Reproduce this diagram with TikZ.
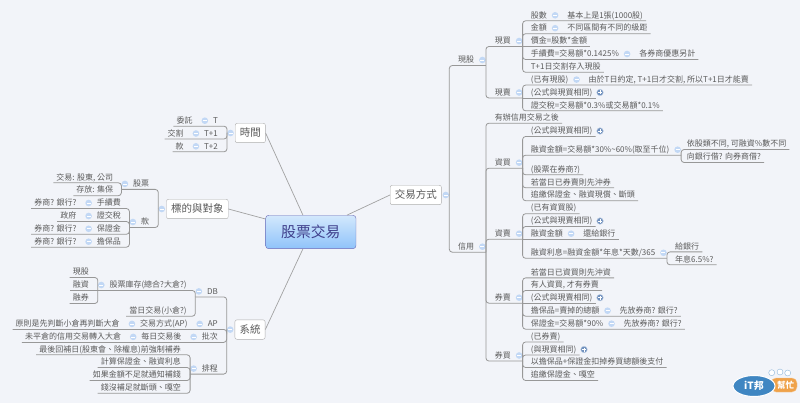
\documentclass[tikz,border=0pt]{standalone}
\usepackage{fontspec}
\setmainfont{Noto Sans CJK TC}
\usepackage{tikz}
\usetikzlibrary{positioning,calc,shapes.geometric}
\definecolor{paper}{HTML}{F2F4F9}
\definecolor{ink}{HTML}{5A5A5A}
\definecolor{wire}{HTML}{989898}
\definecolor{dotblue}{HTML}{C2D8F5}
\definecolor{plusblue}{HTML}{6F90BE}
\definecolor{logoblue}{HTML}{3F86C2}
\definecolor{logoorange}{HTML}{EFA24A}
\definecolor{roottop}{HTML}{D3E8FC}
\definecolor{rootlow}{HTML}{8FC3FA}

\begin{document}
\begin{tikzpicture}[
  x=1pt,y=-1pt,
  node distance=1.5pt,
  lab/.style={inner xsep=3pt,inner ysep=0pt,minimum height=10.6pt,text height=6.8pt,
    text depth=1.2pt,text=ink,font=\fontsize{8}{8}\selectfont},
  topic/.style={draw=wire!80,fill=white,rounded corners=2pt,inner xsep=4.6pt,inner ysep=0pt,
    minimum height=19.4pt,text height=8.8pt,text depth=1.6pt,text=ink,
    font=\fontsize{10.5}{10.5}\selectfont},
  minus/.style={circle,fill=dotblue,minimum size=6.6pt,inner sep=0pt,
    path picture={\draw[white,line width=.7pt] ($(path picture bounding box.center)+(-2,0)$)--+(4,0);}},
  plus/.style={circle,fill=plusblue,draw=plusblue!40,minimum size=6.6pt,inner sep=0pt,
    path picture={\draw[white,line width=.7pt] ($(path picture bounding box.center)+(-2,0)$)--+(4,0)
      ($(path picture bounding box.center)+(0,-2)$)--+(0,4);}},
  branch/.style={draw=wire,line width=.8pt,rounded corners=3pt},
  spoke/.style={draw=wire!90,line width=.7pt}]
\fill[paper] (0,0) rectangle (800,403);
\useasboundingbox (0,0) rectangle (800,403);

% centre
\node[draw=wire!70!blue,rounded corners=3pt,top color=roottop,bottom color=rootlow,
  minimum width=90.3pt,minimum height=33.4pt,text=ink!70!blue,
  font=\fontsize{14.8}{14.8}\selectfont] (root) at (310.8,232) {股票交易};
\node[topic,anchor=west] (time) at (235,133) {時間};
\node[topic,anchor=west] (target) at (166.3,209) {標的與對象};
\node[topic,anchor=west] (sys) at (234.7,329.6) {系統};
\node[topic,anchor=west] (trade) at (390,195) {交易方式};
\draw[spoke] (root.115)--(time.east);
\draw[spoke] (root.164)--(target.east);
\draw[spoke] (root.245)--(sys.east);
\draw[spoke] (root.25)--(trade.west);
\node[minus,left=1pt of time] (timeM) {};
\node[minus,left=1pt of target] (targetM) {};
\node[minus,left=1pt of sys] (sysM) {};
\node[minus,right=.7pt of trade] (tradeM) {};

% time
\node[lab,anchor=east] (t0) at (221,120.7) {T};
\node[minus,left=of t0] (t0M) {};
\node[lab,left=5.5pt of t0M] (t0L) {委託};
\node[lab,anchor=east] (t1) at (221,133.5) {T+1};
\node[minus,left=of t1] (t1M) {};
\node[lab,left=5.5pt of t1M] (t1L) {交割};
\node[lab,anchor=east] (t2) at (221,146.3) {T+2};
\node[minus,left=of t2] (t2M) {};
\node[lab,left=5.5pt of t2M] (t2L) {款};
\draw[branch] (timeM.west) |- (t0L.south west);
\draw[branch] (timeM.west) |- (t1L.south west);
\draw[branch] (timeM.west) |- (t2L.south west);

% target
\node[lab,anchor=east] (stock) at (152.3,183.9) {股票};
\node[minus,left=of stock] (stockM) {};
\node[lab,anchor=east] (deal) at (116.3,177.3) {交易: 股東, 公司};
\node[lab,anchor=east] (keep) at (116.3,190.2) {存放: 集保};
\coordinate (stockJ) at (stockM.west |- stock.south);
\draw[branch] (targetM.west) |- (stockJ);
\draw[branch] (stockJ) |- (deal.south west);
\draw[branch] (stockJ) |- (keep.south west);
\node[lab,anchor=east] (money) at (152.3,222) {款};
\node[minus,left=of money] (moneyM) {};
\coordinate (moneyJ) at (moneyM.west |- money.south);
\draw[branch] (targetM.west) |- (moneyJ);
\node[lab,anchor=east] (fee) at (124,203) {手續費};
\node[minus,left=of fee] (feeM) {};
\node[lab,left=5.5pt of feeM] (feeL) {券商? 銀行?};
\node[lab,anchor=east] (tax) at (124,216) {證交稅};
\node[minus,left=of tax] (taxM) {};
\node[lab,left=5.5pt of taxM] (taxL) {政府};
\node[lab,anchor=east] (marg) at (124,228.8) {保證金};
\node[minus,left=of marg] (margM) {};
\node[lab,left=5.5pt of margM] (margL) {券商? 銀行?};
\node[lab,anchor=east] (coll) at (124,241.7) {擔保品};
\node[minus,left=of coll] (collM) {};
\node[lab,left=5.5pt of collM] (collL) {券商? 銀行?};
\draw[branch] (moneyJ) |- (feeL.south west);
\draw[branch] (moneyJ) |- (taxL.south west);
\draw[branch] (moneyJ) |- (margL.south west);
\draw[branch] (moneyJ) |- (collL.south west);

% system
\node[lab,anchor=east] (db) at (221,291.4) {DB};
\node[minus,left=of db] (dbM) {};
\coordinate (dbJ) at (dbM.west |- db.south);
\draw[branch] (sysM.west) |- (dbJ);
\node[lab,anchor=east] (inv) at (189.7,285) {股票庫存(總合?大倉?)};
\node[minus,left=of inv] (invM) {};
\coordinate (invJ) at (invM.west |- inv.south);
\draw[branch] (dbJ) |- (invJ);
\node[lab,anchor=east] (spot) at (92,272) {現股};
\node[lab,anchor=east] (lend) at (92,285) {融資};
\node[lab,anchor=east] (short) at (92,298) {融券};
\draw[branch] (invJ) |- (spot.south west);
\draw[branch] (invJ) -- (lend.south west);
\draw[branch] (invJ) |- (short.south west);
\node[lab,anchor=east] (today) at (189.7,310.7) {當日交易(小倉?)};
\draw[branch] (dbJ) |- (today.south west);
\node[lab,anchor=east] (ap) at (221,323.9) {AP};
\node[minus,left=of ap] (apM) {};
\node[lab,left=5.5pt of apM] (apWay) {交易方式(AP)};
\node[minus,left=of apWay] (apWayM) {};
\node[lab,left=5.5pt of apWayM] (apRule) {原則是先判斷小倉再判斷大倉};
\draw[branch] (sysM.west) |- (apRule.south west);
\node[lab,anchor=east] (batch) at (221,336.9) {批次};
\node[minus,left=of batch] (batchM) {};
\node[lab,left=5.5pt of batchM] (batchWhen) {每日交易後};
\node[minus,left=of batchWhen] (batchWhenM) {};
\node[lab,left=5.5pt of batchWhenM] (batchDo) {未平倉的信用交易轉入大倉};
\draw[branch] (sysM.west) |- (batchDo.south west);
\node[lab,anchor=east] (sched) at (221,368.6) {排程};
\node[minus,left=of sched] (schedM) {};
\coordinate (schedJ) at (schedM.west |- sched.south);
\draw[branch] (sysM.west) |- (schedJ);
\node[lab,anchor=east] (last) at (184,349.3) {最後回補日(股東會、除權息)前強制補券};
\node[lab,anchor=east] (calc) at (184,362) {計算保證金、融資利息};
\node[lab,anchor=east] (notify) at (184,375) {如果金額不足就通知補錢};
\node[lab,anchor=east] (cut) at (184,387.8) {錢沒補足就斷頭、嘎空};
\draw[branch] (schedJ) |- (last.south west);
\draw[branch] (schedJ) |- (calc.south west);
\draw[branch] (schedJ) |- (notify.south west);
\draw[branch] (schedJ) |- (cut.south west);

% trade, cash
\node[lab,anchor=west] (cash) at (455,60) {現股};
\node[minus,right=of cash] (cashM) {};
\coordinate (cashJ) at (cashM.east |- cash.south);
\draw[branch] (tradeM.east) |- (cashJ);
\node[lab,anchor=west] (cbuy) at (491.7,41) {現買};
\node[minus,right=of cbuy] (cbuyM) {};
\coordinate (cbuyJ) at (cbuyM.east |- cbuy.south);
\draw[branch] (cashJ) |- (cbuyJ);
\node[lab,anchor=west] (shares) at (527.7,15.3) {股數};
\node[minus,right=of shares] (sharesM) {};
\node[lab,right=5.5pt of sharesM] (sharesN) {基本上是1張(1000股)};
\node[lab,anchor=west] (amount) at (527.7,28.2) {金額};
\node[minus,right=of amount] (amountM) {};
\node[lab,right=5.5pt of amountM] (amountN) {不同區間有不同的級距};
\node[lab,anchor=west] (price) at (527.7,41) {價金=股數*金額};
\node[lab,anchor=west] (cfee) at (527.7,54) {手續費=交易額*0.1425\%};
\node[minus,right=of cfee] (cfeeM) {};
\node[lab,right=5.5pt of cfeeM] (cfeeN) {各券商優惠另計};
\node[lab,anchor=west] (settle) at (527.7,66.8) {T+1日交割存入現股};
\draw[branch] (cbuyJ) |- (sharesN.south east);
\draw[branch] (cbuyJ) |- (amountN.south east);
\draw[branch] (cbuyJ) -- (price.south east);
\draw[branch] (cbuyJ) |- (cfeeN.south east);
\draw[branch] (cbuyJ) |- (settle.south east);
\node[lab,anchor=west] (csell) at (491.7,92.5) {現賣};
\node[minus,right=of csell] (csellM) {};
\coordinate (csellJ) at (csellM.east |- csell.south);
\draw[branch] (cashJ) |- (csellJ);
\node[lab,anchor=west] (have) at (527.7,79.6) {(已有現股)};
\node[minus,right=of have] (haveM) {};
\node[lab,right=5.5pt of haveM] (haveN) {由於T日約定, T+1日才交割, 所以T+1日才能賣};
\node[lab,anchor=west] (same1) at (527.7,92.5) {(公式與現買相同)};
\node[plus,right=1pt of same1] (same1P) {};
\node[lab,anchor=west] (ctax) at (527.7,105.3) {證交稅=交易額*0.3\%或交易額*0.1\%};
\draw[branch] (csellJ) |- (haveN.south east);
\draw[branch] (csellJ) -- (same1.south east);
\draw[branch] (csellJ) |- (ctax.south east);

% trade, credit
\node[lab,anchor=west] (credit) at (455,246.7) {信用};
\node[minus,right=of credit] (creditM) {};
\coordinate (creditJ) at (creditM.east |- credit.south);
\draw[branch] (tradeM.east) |- (creditJ);
\node[lab,anchor=west] (open) at (491.7,117.7) {有辦信用交易之後};
\draw[branch] (creditJ) |- (open.south east);

\node[lab,anchor=west] (lbuy) at (491.7,162.7) {資買};
\node[minus,right=of lbuy] (lbuyM) {};
\coordinate (lbuyJ) at (lbuyM.east |- lbuy.south);
\draw[branch] (creditJ) |- (lbuyJ);
\node[lab,anchor=west] (same2) at (527.7,131) {(公式與現買相同)};
\node[plus,right=1pt of same2] (same2P) {};
\node[lab,anchor=west] (lamt) at (527.7,149.7) {融資金額=交易額*30\%\textasciitilde60\%(取至千位)};
\node[minus,right=of lamt] (lamtM) {};
\coordinate (lamtJ) at (lamtM.east |- lamt.south);
\node[lab,anchor=west] (lkind) at (683.7,144) {依股類不同, 可融資\%數不同};
\node[lab,anchor=west] (lfrom) at (683.7,157) {向銀行借? 向券商借?};
\node[lab,anchor=west] (lwhere) at (527.7,169.3) {(股票在券商?)};
\node[lab,anchor=west] (lcover) at (527.7,182.3) {若當日已券賣則先沖券};
\node[lab,anchor=west] (lcall) at (527.7,195.2) {追繳保證金、融資現償、斷頭};
\draw[branch] (lbuyJ) |- (same2.south east);
\draw[branch] (lbuyJ) |- (lamtJ);
\draw[branch] (lamtJ) |- (lkind.south east);
\draw[branch] (lamtJ) |- (lfrom.south east);
\draw[branch] (lbuyJ) |- (lwhere.south east);
\draw[branch] (lbuyJ) |- (lcover.south east);
\draw[branch] (lbuyJ) |- (lcall.south east);

\node[lab,anchor=west] (lsell) at (491.7,233.7) {資賣};
\node[minus,right=of lsell] (lsellM) {};
\coordinate (lsellJ) at (lsellM.east |- lsell.south);
\draw[branch] (creditJ) |- (lsellJ);
\node[lab,anchor=west] (lhave) at (527.7,208.2) {(已有資買股)};
\node[lab,anchor=west] (same3) at (527.7,221) {(公式與現賣相同)};
\node[plus,right=1pt of same3] (same3P) {};
\node[lab,anchor=west] (lback) at (527.7,233.7) {融資金額};
\node[minus,right=of lback] (lbackM) {};
\node[lab,right=5.5pt of lbackM] (lbackN) {還給銀行};
\node[lab,anchor=west] (lint) at (527.7,252.8) {融資利息=融資金額*年息*天數/365};
\node[minus,right=of lint] (lintM) {};
\coordinate (lintJ) at (lintM.east |- lint.south);
\node[lab,anchor=west] (lbank) at (672,246.4) {給銀行};
\node[lab,anchor=west] (lrate) at (672,259.3) {年息6.5\%?};
\draw[branch] (lsellJ) |- (lhave.south east);
\draw[branch] (lsellJ) |- (same3.south east);
\draw[branch] (lsellJ) -- (lbackN.south east);
\draw[branch] (lsellJ) |- (lintJ);
\draw[branch] (lintJ) |- (lbank.south east);
\draw[branch] (lintJ) |- (lrate.south east);

\node[lab,anchor=west] (ssell) at (491.7,297.7) {券賣};
\node[minus,right=of ssell] (ssellM) {};
\coordinate (ssellJ) at (ssellM.east |- ssell.south);
\draw[branch] (creditJ) |- (ssellJ);
\node[lab,anchor=west] (scover) at (527.7,272.4) {若當日已資買則先沖資};
\node[lab,anchor=west] (swho) at (527.7,285) {有人資買, 才有券賣};
\node[lab,anchor=west] (same4) at (527.7,297.7) {(公式與現賣相同)};
\node[plus,right=1pt of same4] (same4P) {};
\node[lab,anchor=west] (scoll) at (527.7,310.7) {擔保品=賣掉的總額};
\node[minus,right=of scoll] (scollM) {};
\node[lab,right=5.5pt of scollM] (scollN) {先放券商? 銀行?};
\node[lab,anchor=west] (smarg) at (527.7,323.7) {保證金=交易額*90\%};
\node[minus,right=of smarg] (smargM) {};
\node[lab,right=5.5pt of smargM] (smargN) {先放券商? 銀行?};
\draw[branch] (ssellJ) |- (scover.south east);
\draw[branch] (ssellJ) |- (swho.south east);
\draw[branch] (ssellJ) -- (same4.south east);
\draw[branch] (ssellJ) |- (scollN.south east);
\draw[branch] (ssellJ) |- (smargN.south east);

\node[lab,anchor=west] (sbuy) at (491.7,355.5) {券買};
\node[minus,right=of sbuy] (sbuyM) {};
\coordinate (sbuyJ) at (sbuyM.east |- sbuy.south);
\draw[branch] (creditJ) |- (sbuyJ);
\node[lab,anchor=west] (shave) at (527.7,336.5) {(已券賣)};
\node[lab,anchor=west] (same5) at (527.7,349.5) {(與現買相同)};
\node[plus,right=1pt of same5] (same5P) {};
\node[lab,anchor=west] (spay) at (527.7,362) {以擔保品+保證金扣掉券買總額後支付};
\node[lab,anchor=west] (scall) at (527.7,375) {追繳保證金、嘎空};
\draw[branch] (sbuyJ) |- (shave.south east);
\draw[branch] (sbuyJ) |- (same5.south east);
\draw[branch] (sbuyJ) |- (spay.south east);
\draw[branch] (sbuyJ) |- (scall.south east);

% badge
\node[circle,draw=logoblue!60,fill=white,minimum size=6pt,inner sep=0pt] (head1) at (771.7,372.7) {};
\node[circle,draw=logoblue!60,fill=white,minimum size=6pt,inner sep=0pt] (head2) at (780,372) {};
\node[circle,draw=logoblue!60,fill=white,minimum size=6pt,inner sep=0pt] (head3) at (787.7,373) {};
\node[draw=logoorange!60,fill=logoorange,rounded corners=5pt,minimum width=26pt,minimum height=14pt,
  inner sep=0pt,text=white,font=\bfseries\fontsize{8.5}{8.5}\selectfont] (help) at (784,385) {\hspace{3pt}幫忙};
\node[ellipse,draw=white,line width=1pt,fill=logoblue,minimum width=42pt,minimum height=21pt,inner sep=0pt,
  text=white,font=\bfseries\itshape\fontsize{10}{10}\selectfont] (itbang) at (754,386) {iT邦};
\end{tikzpicture}
\end{document}
